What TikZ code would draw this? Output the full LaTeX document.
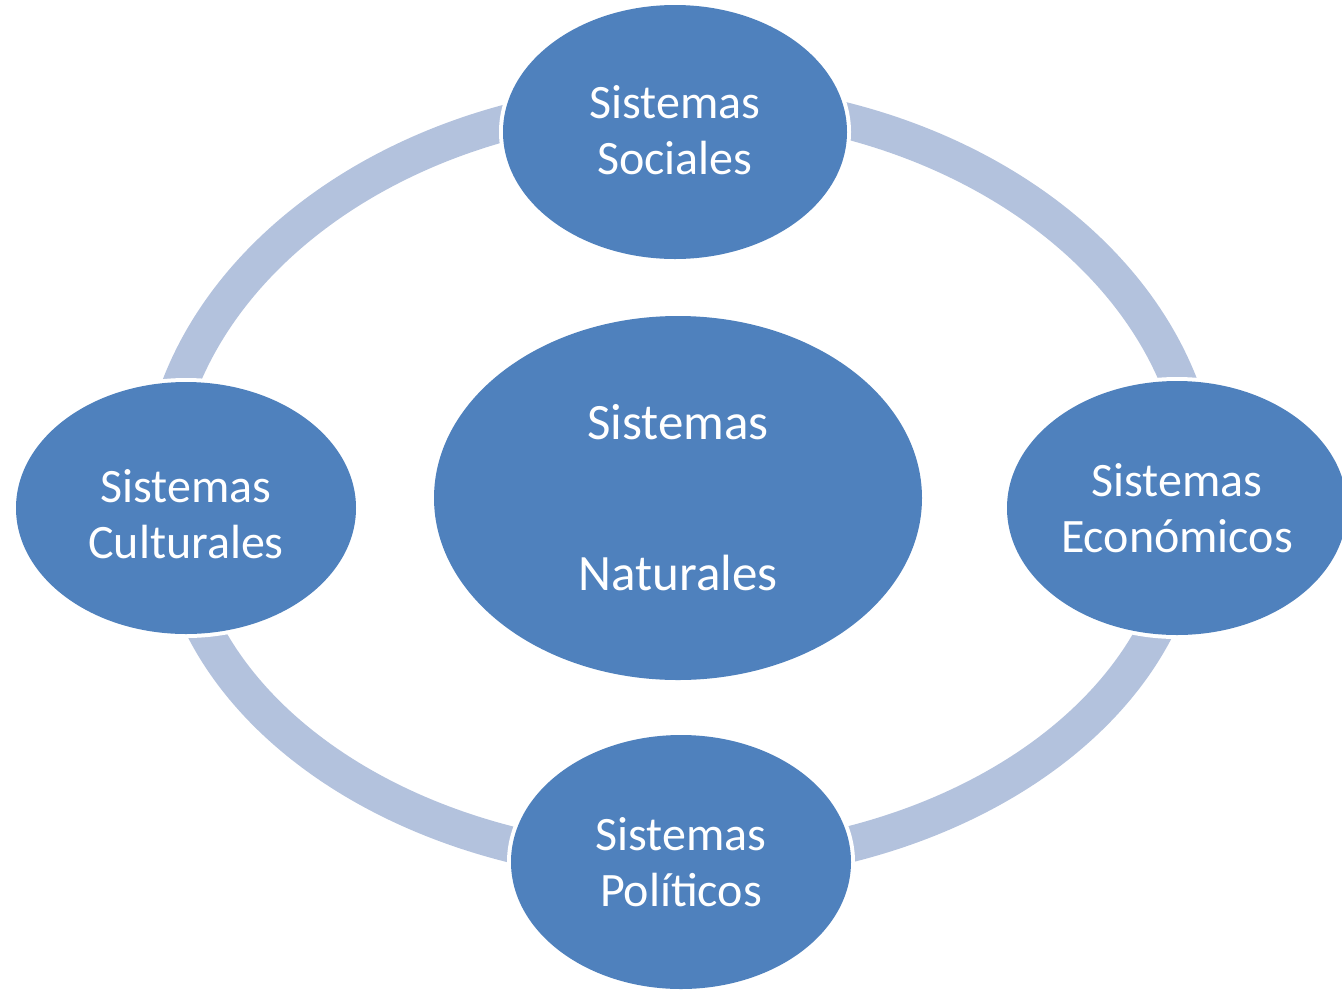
\documentclass[tikz,border=0pt]{standalone}
\usepackage{fontspec}
\setmainfont{Carlito}
\usetikzlibrary{shapes.geometric,backgrounds}
\definecolor{nodeblue}{RGB}{79,129,189}
\definecolor{ringblue}{RGB}{179,194,221}
\begin{document}
\begin{tikzpicture}[x=1pt,y=-1pt,
  sys/.style={ellipse, fill=nodeblue, text=white, inner sep=0pt, align=center,
    font=\fontsize{48}{56}\selectfont,
    preaction={draw=white, line width=8pt}},
  ring/.style={draw=ringblue, line width=36pt}]
\useasboundingbox (0,0) rectangle (1342,989);

\node[sys, minimum width=344, minimum height=254] (soc) at (675,132) {Sistemas\\Sociales\rule[-4pt]{0pt}{4pt}};
\node[sys, minimum width=340, minimum height=252] (cul) at (186,508) {\rule{0pt}{46pt}Sistemas\\Culturales};
\node[sys, minimum width=340, minimum height=254] (eco) at (1177,508) {Sistemas\\Económicos};
\node[sys, minimum width=340, minimum height=254] (pol) at (681,862) {Sistemas\\Políticos};
\node[sys, minimum width=488, minimum height=364, font=\fontsize{51}{56}\selectfont] (nat) at (678,498) {Sistemas\\[95pt]Naturales};

\coordinate (rT) at (680,100);
\coordinate (rL1) at (158,500);
\coordinate (rR1) at (1202,500);
\coordinate (rL2) at (173,505);
\coordinate (rR2) at (1187,505);
\coordinate (rB) at (680,865);

\begin{scope}[on background layer]
\draw[ring] (rL1) .. controls (158,279.1) and (391.7,100) .. (rT);
\draw[ring] (rT) .. controls (968.3,100) and (1202,279.1) .. (rR1);
\draw[ring] (rL2) .. controls (173,703.8) and (400,865) .. (rB);
\draw[ring] (rB) .. controls (960,865) and (1187,703.8) .. (rR2);
\end{scope}
\end{tikzpicture}
\end{document}
